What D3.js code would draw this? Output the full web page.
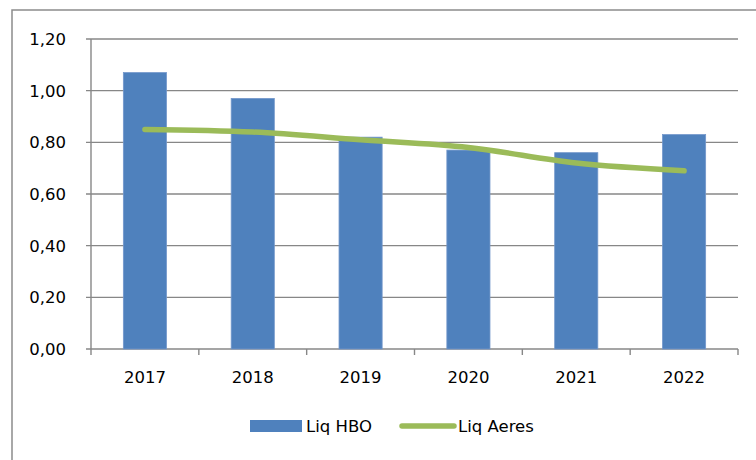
<!DOCTYPE html>
<html><head><meta charset="utf-8">
<script src="https://cdn.jsdelivr.net/npm/d3@7"></script>
<style>body{margin:0;background:#fff}svg{display:block}</style>
</head><body>
<svg id="c" width="756" height="460"></svg>
<script>
const years = ["2017","2018","2019","2020","2021","2022"];
const liqHBO = [1.07, 0.97, 0.82, 0.77, 0.76, 0.83];
const liqAeres = [0.85, 0.84, 0.81, 0.78, 0.72, 0.69];
const yTicks = [0, 0.2, 0.4, 0.6, 0.8, 1.0, 1.2];
const seriesNames = ["Liq HBO", "Liq Aeres"];

const svg = d3.select("#c");
const font = "DejaVu Sans";
const L = 91, R = 738, T = 39, B = 349;
const x = d3.scaleBand().domain(years).range([L, R]).paddingInner(0.6).paddingOuter(0.3);
const xb = d3.scaleBand().domain(years).range([L, R]);
const y = d3.scaleLinear().domain([0, 1.2]).range([B, T]);
const grid = "#878787";
const fmt = v => v.toFixed(2).replace(".", ",");

// outer frame
svg.append("path").attr("d", `M12,470 V10 H770`).attr("fill","none").attr("stroke","#8c8c8c").attr("stroke-width",1.5);

// gridlines + y ticks
svg.append("g").selectAll("line").data(yTicks).join("line")
  .attr("x1", L-5).attr("x2", R).attr("y1", d=>y(d)).attr("y2", d=>y(d))
  .attr("stroke", grid).attr("stroke-width", 1.4);
svg.append("line").attr("x1",L).attr("x2",L).attr("y1",T).attr("y2",B)
  .attr("stroke",grid).attr("stroke-width",1.4);
// x ticks at band boundaries
const bounds = years.map(d=>xb(d)).concat([R]);
svg.append("g").selectAll("line").data(bounds).join("line")
  .attr("x1", d=>d).attr("x2", d=>d).attr("y1", B).attr("y2", B+6)
  .attr("stroke", grid).attr("stroke-width", 1.4);

svg.append("g").selectAll("text").data(yTicks).join("text")
  .attr("x", 66).attr("y", d=>y(d)).attr("dy","0.36em").attr("text-anchor","end")
  .attr("font-family", font).attr("font-size", 16.5).attr("fill","#000").text(fmt);

svg.append("g").selectAll("text").data(years).join("text")
  .attr("x", d=>xb(d)+xb.bandwidth()/2).attr("y", 383).attr("text-anchor","middle")
  .attr("font-family", font).attr("font-size", 16.5).attr("fill","#000").text(d=>d);

// bars
svg.append("g").selectAll("rect").data(years).join("rect")
  .attr("x", d=>x(d)).attr("width", x.bandwidth())
  .attr("y", (d,i)=>y(liqHBO[i])).attr("height", (d,i)=>B - y(liqHBO[i]))
  .attr("fill", "#4F81BD").attr("stroke","#7397CB").attr("stroke-width",0.8);

// line
const line = d3.line().x((d,i)=>xb(years[i])+xb.bandwidth()/2).y(d=>y(d)).curve(d3.curveCatmullRom.alpha(0));
svg.append("path").datum(liqAeres).attr("d", line).attr("fill","none")
  .attr("stroke","#9BBB59").attr("stroke-width",5.5).attr("stroke-linecap","round").attr("stroke-linejoin","round");

// legend
const lg = svg.append("g");
lg.append("rect").attr("x",250).attr("y",420).attr("width",52).attr("height",12).attr("fill","#4F81BD");
lg.append("text").attr("x",306).attr("y",426).attr("dy","0.36em").attr("font-family",font).attr("font-size",16.5).text(seriesNames[0]);
lg.append("line").attr("x1",402).attr("x2",454).attr("y1",426).attr("y2",426)
  .attr("stroke","#9BBB59").attr("stroke-width",5.5).attr("stroke-linecap","round");
lg.append("text").attr("x",458).attr("y",426).attr("dy","0.36em").attr("font-family",font).attr("font-size",16.5).text(seriesNames[1]);
</script>
</body></html>
